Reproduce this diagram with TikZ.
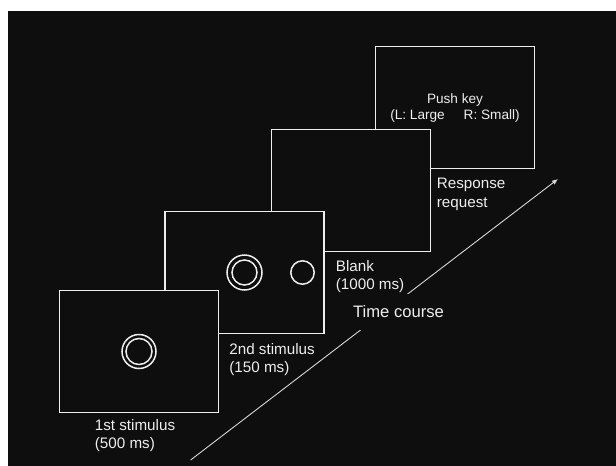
\documentclass[tikz,border=0pt]{standalone}
\usepackage{fontspec}
\setmainfont{Liberation Sans}
\usetikzlibrary{arrows.meta, positioning, calc}
\definecolor{bgdark}{HTML}{0E0E0E}
\definecolor{lnwhite}{HTML}{EEEEEE}
\definecolor{axgrey}{HTML}{D6D6D6}
\tikzset{
  >=Latex,
  screen/.style={
    draw=lnwhite, fill=bgdark, line width=1.6pt, text=lnwhite,
    minimum width=159pt, minimum height=122pt, inner sep=0pt, align=center
  },
  caption/.style={
    text=lnwhite, align=left, inner sep=0pt,
    font=\fontsize{15.2}{18.3}\selectfont
  },
  ring/.style={draw=lnwhite, line width=1.5pt},
  timeaxis/.style={draw=axgrey, line width=0.9pt, -{Latex[length=6pt,width=5pt]}}
}

\begin{document}
\begin{tikzpicture}[x=1pt, y=-1pt]
  \useasboundingbox (0,0) rectangle (616,466);
  \fill[bgdark] (8,11) rectangle (616,466);
  % screens, drawn from back to front
  \node[screen, font=\fontsize{13.6}{16}\selectfont] (s4) at (455,107.5)
    {Push key\\(L: Large\hspace{19pt}R: Small)};
  \node[screen] (s3) at (351,190.5) {};
  \node[screen] (s2) at (244.5,272.5) {};
  \node[screen] (s1) at (139,351.5) {};
  % stimuli
  \draw[ring] (s1.center) circle (17pt) (s1.center) circle (13pt);
  \draw[ring] (s2.center) circle (17.5pt) (s2.center) circle (12.5pt);
  \draw[ring] ($(s2.center)+(58,0)$) circle (11.7pt);
  % captions
  \node[caption, below right=6pt and 36pt of s1.south west] (c1) {1st stimulus\\(500 ms)};
  \node[caption, below right=9pt and 65pt of s2.south west] (c2) {2nd stimulus\\(150 ms)};
  \node[caption, below right=8pt and 65pt of s3.south west] (c3) {Blank\\(1000 ms)};
  \node[caption, below right=9pt and 62pt of s4.south west] (c4) {Response\\request};
  % time axis
  \coordinate (t0) at (190.6,460);
  \coordinate (t1) at (558,179);
  \draw[timeaxis] (t0) -- (t1);
  \node[caption, fill=bgdark, font=\fontsize{16.6}{20}\selectfont,
    minimum height=36pt, inner xsep=3pt] (tc) at (398.5,311.5) {Time course};
\end{tikzpicture}
\end{document}
